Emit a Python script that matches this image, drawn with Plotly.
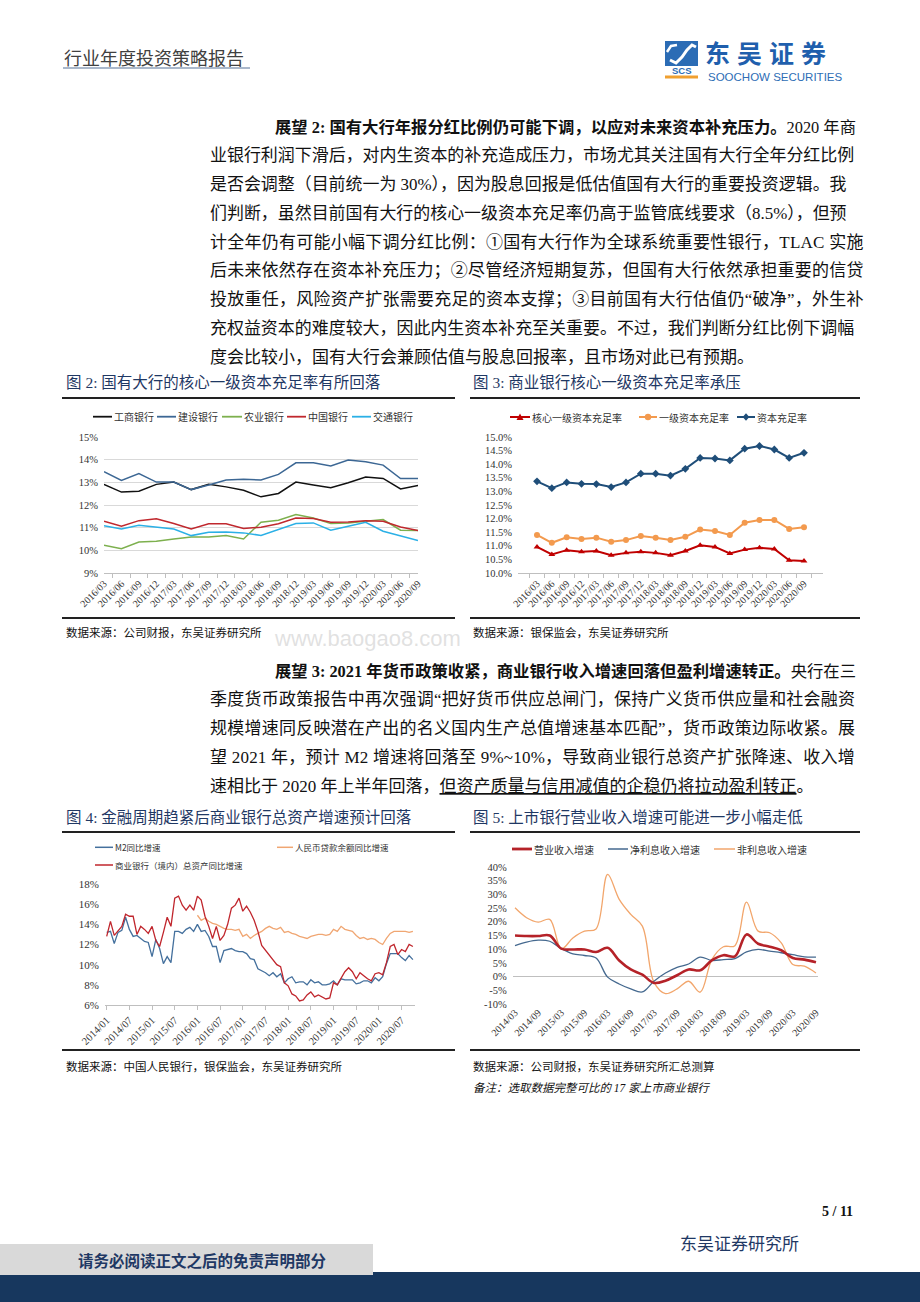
import plotly.graph_objects as go

W, H = 920, 1302
def X(p): return p / W
def Y(p): return 1 - p / H

SERIF_CJK = "Liberation Serif, Noto Sans CJK SC"
SANS_CJK = "Noto Sans CJK SC, Liberation Sans"
TEXT = "#111111"
NAVY_T = "#1F3864"
TICK = "#333333"

# ---------------- data: figure 2 ----------------
q16 = ["2016/03", "2016/06", "2016/09", "2016/12", "2017/03", "2017/06", "2017/09", "2017/12",
       "2018/03", "2018/06", "2018/09", "2018/12", "2019/03", "2019/06", "2019/09", "2019/12",
       "2020/03", "2020/06", "2020/09"]
icbc = [12.91, 12.57, 12.61, 12.91, 13.01, 12.68, 12.91, 12.80, 12.65, 12.36, 12.51, 13.01, 12.88,
        12.76, 12.98, 13.23, 13.17, 12.71, 12.86]
ccb = [13.47, 13.08, 13.39, 13.01, 13.01, 12.68, 12.88, 13.10, 13.14, 13.10, 13.35, 13.86, 13.86,
       13.72, 13.98, 13.91, 13.76, 13.17, 13.17]
abc = [10.22, 10.07, 10.37, 10.40, 10.50, 10.59, 10.59, 10.65, 10.50, 11.24, 11.33, 11.58, 11.43,
       11.18, 11.21, 11.28, 11.36, 10.89, 10.87]
boc = [11.28, 11.06, 11.31, 11.39, 11.18, 10.94, 11.17, 11.17, 10.96, 11.02, 11.17, 11.43, 11.40,
       11.24, 11.25, 11.31, 11.28, 11.03, 10.87]
bocom = [11.09, 10.94, 11.11, 11.02, 10.94, 10.65, 10.80, 10.81, 10.77, 10.66, 10.91, 11.18, 11.21,
         10.89, 11.06, 11.24, 10.84, 10.65, 10.43]

# ---------------- data: figure 3 ----------------
cet1 = [10.96, 10.68, 10.84, 10.78, 10.81, 10.65, 10.74, 10.78, 10.74, 10.65, 10.81, 11.02, 10.96,
        10.72, 10.86, 10.93, 10.88, 10.47, 10.44]
tier1 = [11.40, 11.11, 11.31, 11.25, 11.30, 11.15, 11.21, 11.36, 11.30, 11.21, 11.33, 11.60, 11.54,
         11.40, 11.85, 11.95, 11.95, 11.62, 11.68]
car = [13.37, 13.12, 13.33, 13.28, 13.27, 13.16, 13.33, 13.65, 13.65, 13.58, 13.83, 14.23, 14.21,
       14.14, 14.57, 14.67, 14.54, 14.23, 14.42]

# ---------------- data: figure 4 (monthly, 2014/01 - 2020/10) ----------------
months = [f"{yr}/{mo:02d}" for yr in range(2014, 2021) for mo in range(1, 13)][:82]
m2 = [13.2, 13.3, 12.1, 13.2, 13.4, 14.7, 13.5, 12.8, 12.9, 12.6, 12.3, 12.2,
      10.8, 12.5, 11.6, 10.1, 10.8, 10.2, 13.3, 13.3, 13.1, 13.5, 13.7, 13.3,
      14.0, 13.3, 13.4, 12.8, 11.8, 11.8, 10.2, 11.4, 11.5, 11.6, 11.4, 11.3,
      11.3, 11.1, 10.6, 10.5, 9.6, 9.4, 9.2, 8.9, 9.2, 8.8, 9.1, 8.2,
      8.6, 8.8, 8.2, 8.3, 8.3, 8.0, 8.5, 8.2, 8.3, 8.0, 8.0, 8.1,
      8.4, 8.0, 8.6, 8.5, 8.5, 8.5, 8.1, 8.2, 8.4, 8.4, 8.2, 8.7,
      8.4, 8.8, 10.1, 11.1, 11.1, 11.1, 10.7, 10.4, 10.9, 10.5]
loan_months = months[24:]
loan = [14.9, 14.4, 14.6, 14.3, 14.1, 14.0, 13.8, 13.6, 13.5, 13.5, 13.4, 13.5,
        12.8, 13.0, 12.6, 12.9, 13.1, 13.3, 13.6, 13.8, 13.6, 13.5, 13.7, 13.2,
        13.3, 13.1, 13.0, 12.8, 12.7, 12.6, 12.8, 12.9, 13.0, 13.0, 12.9, 13.0,
        13.5, 13.3, 13.8, 13.5, 13.4, 13.3, 12.9, 12.6, 12.7, 12.5, 12.6, 12.5,
        12.2, 12.0, 12.6, 13.1, 13.3, 13.3, 13.3, 13.3, 13.2, 13.3]
assets = [12.8, 14.3, 12.9, 13.3, 13.8, 15.0, 14.8, 14.8, 13.0, 13.8, 13.5, 13.1,
          13.8, 12.4, 11.8, 13.2, 14.7, 13.8, 16.6, 16.8, 15.9, 15.4, 15.9, 15.4,
          16.8, 16.4, 14.8, 13.8, 12.6, 13.8, 12.4, 12.9, 14.0, 15.6, 15.9, 16.6,
          15.3, 15.8, 15.2, 14.4, 13.3, 11.9, 11.4, 11.0, 10.5, 10.0, 9.8, 8.2,
          7.9, 7.1, 6.9, 6.4, 6.5, 7.0, 7.3, 6.8, 7.0, 6.8, 6.6, 6.7,
          8.2, 8.0, 8.6, 9.3, 9.7, 9.3, 8.6, 9.2, 8.9, 8.6, 8.4, 9.1,
          9.2, 9.0, 10.2, 11.8, 12.0, 11.0, 11.5, 11.3, 12.0, 11.8]

# ---------------- data: figure 5 (quarterly, 2014/03 - 2020/09) ----------------
q14 = ["2014/03", "2014/06", "2014/09", "2014/12", "2015/03", "2015/06", "2015/09", "2015/12",
       "2016/03", "2016/06", "2016/09", "2016/12", "2017/03", "2017/06", "2017/09", "2017/12",
       "2018/03", "2018/06", "2018/09", "2018/12", "2019/03", "2019/06", "2019/09", "2019/12",
       "2020/03", "2020/06", "2020/09"]
rev = [15.0, 14.8, 14.8, 15.0, 10.2, 9.9, 9.9, 9.0, 10.5, 5.9, 2.6, 0.7, -2.3, -1.5, 0.5, 2.6,
       2.3, 5.9, 7.8, 7.4, 15.4, 12.0, 10.9, 9.6, 6.8, 6.2, 5.2]
nii = [11.3, 12.6, 13.3, 12.9, 10.2, 8.3, 7.7, 6.8, -0.2, -2.7, -4.5, -5.6, -1.7, 1.3, 3.4, 4.6,
       7.1, 5.9, 6.2, 6.6, 9.0, 9.9, 9.3, 8.7, 8.0, 7.2, 7.1]
nonii = [25.1, 21.5, 19.9, 20.9, 10.1, 14.1, 16.6, 17.4, 37.3, 28.2, 22.7, 18.4, -2.0, -6.2, -4.5,
         -1.7, -5.7, 6.2, 10.9, 11.3, 27.2, 16.6, 16.0, 12.3, 4.4, 3.8, 1.3]
f5_yticks = [-10, -5, 0, 5, 10, 15, 20, 25, 30, 35, 40]
f5_yticktext = ["-10%", "-5%", "0%", "5%", "10%", "15%", "20%", "25%", "30%", "35%", "40%"]

# ---------------- figure ----------------
fig = go.Figure()

def add_series(x, y, color, width, xa, ya, mode="lines", shape="linear", marker=None):
    kw = dict(x=x, y=y, mode=mode, line=dict(color=color, width=width, shape=shape),
              xaxis=xa, yaxis=ya, showlegend=False, hoverinfo="skip")
    if shape == "spline":
        kw["line"]["smoothing"] = 1.0
    if marker:
        kw["marker"] = marker
    fig.add_trace(go.Scatter(**kw))

C2 = {"工商银行": "#111111", "建设银行": "#3C6794", "农业银行": "#7DB04E", "中国银行": "#C0282E", "交通银行": "#2BB0E6"}
add_series(q16, icbc, C2["工商银行"], 1.5, "x", "y")
add_series(q16, ccb, C2["建设银行"], 1.5, "x", "y")
add_series(q16, abc, C2["农业银行"], 1.5, "x", "y")
add_series(q16, boc, C2["中国银行"], 1.5, "x", "y")
add_series(q16, bocom, C2["交通银行"], 1.5, "x", "y")

C3 = ["#C00000", "#F39A4E", "#1F4E79"]
add_series(q16, car, C3[2], 2, "x2", "y2", mode="lines+markers", marker=dict(symbol="diamond", size=6, color=C3[2]))
add_series(q16, tier1, C3[1], 2, "x2", "y2", mode="lines+markers", marker=dict(symbol="circle", size=6, color=C3[1]))
add_series(q16, cet1, C3[0], 2, "x2", "y2", mode="lines+markers", marker=dict(symbol="triangle-up", size=6, color=C3[0]))

C4 = ["#44709D", "#F0A672", "#C0262D"]
add_series(months, m2, C4[0], 1.3, "x3", "y3")
add_series(loan_months, loan, C4[1], 1.3, "x3", "y3")
add_series(months, assets, C4[2], 1.3, "x3", "y3")

C5 = ["#B52228", "#45698F", "#F2A66C"]
add_series(q14, nonii, C5[2], 1.3, "x4", "y4", shape="spline")
add_series(q14, nii, C5[1], 1.3, "x4", "y4", shape="spline")
add_series(q14, rev, C5[0], 2.6, "x4", "y4", shape="spline")

tickfont = dict(family="Liberation Serif", size=10, color=TICK)
base_x = dict(type="category", showgrid=False, zeroline=False, tickangle=-45, tickfont=tickfont,
              showline=True, linecolor="#BFBFBF", linewidth=1, ticks="outside", ticklen=4,
              tickcolor="#BFBFBF", automargin=False, fixedrange=True)
base_y = dict(showgrid=False, zeroline=False, showline=False, automargin=False, fixedrange=True,
              tickfont=dict(family="Liberation Serif", size=10.5, color=TICK), ticklabelstandoff=5)

layout = dict(
    width=W, height=H, autosize=False, margin=dict(l=0, r=0, t=0, b=0),
    paper_bgcolor="white", plot_bgcolor="rgba(0,0,0,0)", showlegend=False,
    xaxis=dict(base_x, domain=[X(104), X(418)], anchor="y", tickson="boundaries",
               categoryorder="array", categoryarray=q16),
    yaxis=dict(base_y, domain=[Y(573), Y(437)], anchor="x", range=[9, 15], dtick=1, ticksuffix="%",
               showgrid=True, gridcolor="#D9D9D9", gridwidth=1),
    xaxis2=dict(base_x, domain=[X(518), X(823)], anchor="y2", tickson="boundaries",
                categoryorder="array", categoryarray=q16),
    yaxis2=dict(base_y, domain=[Y(573), Y(437)], anchor="x2", range=[10, 15], dtick=0.5,
                tickformat=".1f", ticksuffix="%"),
    xaxis3=dict(base_x, domain=[X(104.8), X(414.8)], anchor="y3", categoryorder="array",
                categoryarray=months, tickvals=months[::6], range=[-0.5, 81.5],
                tickfont=dict(family="Liberation Serif", size=10.5, color=TICK)),
    yaxis3=dict(base_y, domain=[Y(1005), Y(884)], anchor="x3", range=[6, 18], dtick=2, ticksuffix="%",
                tickfont=dict(family="Liberation Serif", size=11, color=TICK)),
    xaxis4=dict(base_x, domain=[X(512.7), X(818.3)], anchor="y4", categoryorder="array",
                categoryarray=q14, tickvals=q14[::2], range=[-0.2, 26.2], showline=False, ticks=""),
    yaxis4=dict(base_y, domain=[Y(1004), Y(867)], anchor="x4", range=[-10, 40], tickvals=f5_yticks,
                ticktext=f5_yticktext, zeroline=True, zerolinecolor="#BFBFBF", zerolinewidth=1),
)

shapes = []
annotations = []

def ann(x, y, text, size, color=TEXT, family=SERIF_CJK, xanchor="left", yanchor="middle", **kw):
    annotations.append(dict(xref="paper", yref="paper", x=X(x), y=Y(y), text=text, showarrow=False,
                            xanchor=xanchor, yanchor=yanchor,
                            font=dict(size=size, color=color, family=family), **kw))

def hline(x0, x1, y, color, w):
    shapes.append(dict(type="line", xref="paper", yref="paper", x0=X(x0), x1=X(x1), y0=Y(y), y1=Y(y),
                       line=dict(color=color, width=w)))

def rect(x0, y0, x1, y1, color):
    shapes.append(dict(type="rect", xref="paper", yref="paper", x0=X(x0), x1=X(x1), y0=Y(y1), y1=Y(y0),
                       fillcolor=color, line=dict(width=0), layer="below"))

def path(pts, fill=None, line_color=None, lw=0, close=True):
    d = ""
    for i, (px_, py_) in enumerate(pts):
        d += ("M" if i == 0 else "L") + f"{X(px_):.6f},{Y(py_):.6f} "
    if close:
        d += "Z"
    s = dict(type="path", xref="paper", yref="paper", path=d,
             line=dict(color=line_color or "rgba(0,0,0,0)", width=lw))
    if fill:
        s["fillcolor"] = fill
    shapes.append(s)

# faint site watermark, placed in the gap between the two source notes
ann(367, 638, "www.baogao8.com", 22, "rgba(200,200,200,0.55)", "Liberation Sans", xanchor="center")

# ---------- header ----------
ann(62, 57, "行业年度投资策略报告", 18, "#404040", SANS_CJK)
hline(63, 250, 68, "#8EA0BA", 1.6)
# logo
rect(665, 41, 698, 66, "#2B6CB5")
path([(670, 60), (676, 63), (682, 57), (687, 50), (692, 45), (696, 47)], line_color="white", lw=3, close=False)
path([(667, 52), (671, 46), (677, 45)], line_color="white", lw=2.5, close=False)
ann(681.5, 70.5, "<b>SCS</b>", 9.5, "#2B6CB5", "Liberation Sans", xanchor="center")
rect(665, 75.5, 698, 78.5, "#F0A030")
ann(703, 52, "<b><span style='letter-spacing:7px'>东吴证券</span></b>", 25, "#1F5FAD", SANS_CJK)
ann(706, 76.5, "SOOCHOW SECURITIES", 11.5, "#2D6DB5", "Liberation Sans")

# ---------- body text ----------
EMW = {" ": 0.25, "%": 0.833, ":": 0.278, ".": 0.25, "~": 0.541, "/": 0.278, "“": 0.444, "”": 0.444,
       "T": 0.611, "L": 0.611, "A": 0.722, "C": 0.667, "M": 0.889}

def em_of(s):
    w = 0.0
    for ch in s:
        if ch in EMW:
            w += EMW[ch]
        elif ch.isdigit():
            w += 0.5
        elif ord(ch) >= 0x2E80 or ch in "①②③":
            w += 1.0
        else:
            w += 0.5
    return w

def body_line(x0, x1, y, segs, size=17, justify=True):
    total_em = sum(em_of(t) for t, _ in segs)
    n = sum(len(t) for t, _ in segs)
    ls = 0.0
    if justify:
        natural = total_em * size
        if natural > (x1 - x0):
            size = (x1 - x0) / total_em   # overfull line: shrink instead of squeezing
        else:
            ls = min(3.0, ((x1 - x0) - natural) / (n - 1))
    parts = []
    for t, st in segs:
        css = f"letter-spacing:{ls:.2f}px" if ls else ""
        if st == "b":
            css += ";font-weight:bold"
        if st == "u":
            css += ";text-decoration:underline"
        parts.append(f"<span style='{css.strip(';')}'>{t}</span>" if css else t)
    ann(x0 - 2, y, "".join(parts), round(size, 2), TEXT, SERIF_CJK)

para1 = [
    [("展望 2: 国有大行年报分红比例仍可能下调，以应对未来资本补充压力。", "b"), ("2020 年商", "")],
    [("业银行利润下滑后，对内生资本的补充造成压力，市场尤其关注国有大行全年分红比例", "")],
    [("是否会调整（目前统一为 30%），因为股息回报是低估值国有大行的重要投资逻辑。我", "")],
    [("们判断，虽然目前国有大行的核心一级资本充足率仍高于监管底线要求（8.5%），但预", "")],
    [("计全年仍有可能小幅下调分红比例：①国有大行作为全球系统重要性银行，TLAC 实施", "")],
    [("后未来依然存在资本补充压力；②尽管经济短期复苏，但国有大行依然承担重要的信贷", "")],
    [("投放重任，风险资产扩张需要充足的资本支撑；③目前国有大行估值仍“破净”，外生补", "")],
    [("充权益资本的难度较大，因此内生资本补充至关重要。不过，我们判断分红比例下调幅", "")],
    [("度会比较小，国有大行会兼顾估值与股息回报率，且市场对此已有预期。", "")],
]
para2 = [
    [("展望 3: 2021 年货币政策收紧，商业银行收入增速回落但盈利增速转正。", "b"), ("央行在三", "")],
    [("季度货币政策报告中再次强调“把好货币供应总闸门，保持广义货币供应量和社会融资", "")],
    [("规模增速同反映潜在产出的名义国内生产总值增速基本匹配”，货币政策边际收紧。展", "")],
    [("望 2021 年，预计 M2 增速将回落至 9%~10%，导致商业银行总资产扩张降速、收入增", "")],
    [("速相比于 2020 年上半年回落，", ""), ("但资产质量与信用减值的企稳仍将拉动盈利转正", "u"), ("。", "")],
]
LH = 28.75
for i, segs in enumerate(para1):
    body_line(275 if i == 0 else 210, 855, 127 + i * LH, segs, justify=(i < len(para1) - 1))
for i, segs in enumerate(para2):
    body_line(275 if i == 0 else 210, 855, 671 + i * LH, segs, justify=(i < len(para2) - 1))

# ---------- figure titles, rules, sources ----------
ann(64, 383, "图 2: 国有大行的核心一级资本充足率有所回落", 15.5, NAVY_T)
ann(471, 383, "图 3: 商业银行核心一级资本充足率承压", 15.5, NAVY_T)
ann(64, 817, "图 4: 金融周期趋紧后商业银行总资产增速预计回落", 15.5, NAVY_T)
ann(471, 817, "图 5: 上市银行营业收入增速可能进一步小幅走低", 15.5, NAVY_T)
for (a, b) in [(62, 455), (470, 860)]:
    hline(a, b, 398, "#222222", 2)
    hline(a, b, 618, "#222222", 2)
    hline(a, b, 832, "#222222", 2)
    hline(a, b, 1050, "#222222", 2)
ann(64, 633, "数据来源：公司财报，东吴证券研究所", 11.5, TEXT)
ann(471, 633, "数据来源：银保监会，东吴证券研究所", 11.5, TEXT)
ann(64, 1066, "数据来源：中国人民银行，银保监会，东吴证券研究所", 11.5, TEXT)
ann(471, 1066, "数据来源：公司财报，东吴证券研究所汇总测算", 11.5, TEXT)
ann(471, 1088, "<i>备注：选取数据完整可比的 17 家上市商业银行</i>", 11.5, TEXT)

# ---------- legends (drawn manually) ----------
LEGF = SANS_CJK
leg2 = [("工商银行", 93, 112), ("建设银行", 157, 176), ("农业银行", 222, 242), ("中国银行", 287, 306), ("交通银行", 352, 371)]
for name, a, b in leg2:
    hline(a, b, 416.7, C2[name], 1.8)
    ann(b, 416.7, name, 10, "#333333", LEGF)

leg3 = [("核心一级资本充足率", 510, 530, C3[0], "tri"), ("一级资本充足率", 639, 657, C3[1], "circ"), ("资本充足率", 737, 755, C3[2], "dia")]
for name, a, b, col, sym in leg3:
    hline(a, b, 417, col, 2)
    cx, cy = (a + b) / 2, 417
    if sym == "tri":
        path([(cx - 3.5, cy + 3), (cx + 3.5, cy + 3), (cx, cy - 3.5)], fill=col)
    elif sym == "circ":
        shapes.append(dict(type="circle", xref="paper", yref="paper", x0=X(cx - 3.2), x1=X(cx + 3.2),
                           y0=Y(cy + 3.2), y1=Y(cy - 3.2), fillcolor=col, line=dict(width=0)))
    else:
        path([(cx, cy - 3.8), (cx + 3.3, cy), (cx, cy + 3.8), (cx - 3.3, cy)], fill=col)
    ann(b, 417, name, 10, "#333333", LEGF)

leg4 = [("M2同比增速", 95, 113, 847.3, C4[0]), ("人民币贷款余额同比增速", 277, 293, 847.3, C4[1]),
        ("商业银行（境内）总资产同比增速", 95, 113, 865, C4[2])]
for name, a, b, yy, col in leg4:
    hline(a, b, yy, col, 1.5)
    ann(b, yy, name, 8.5, "#333333", LEGF)

leg5 = [("营业收入增速", 512, 532, C5[0], 2.8), ("净利息收入增速", 608, 628, C5[1], 1.5), ("非利息收入增速", 714, 735, C5[2], 1.5)]
for name, a, b, col, lw in leg5:
    hline(a, b, 849, col, lw)
    ann(b, 849, name, 10, "#333333", LEGF)

# ---------- footer ----------
ann(855, 1211, "<b>5 / 11</b>", 14, TEXT, "Liberation Serif", xanchor="right")
ann(678, 1242, "东吴证券研究所", 17, NAVY_T, SANS_CJK)
rect(0, 1272, 920, 1302, "#17375E")
rect(0, 1244, 373, 1275, "#D9D9D9")
ann(76, 1260, "<b>请务必阅读正文之后的免责声明部分</b>", 15.5, NAVY_T, SANS_CJK)

layout["shapes"] = shapes
layout["annotations"] = annotations
fig.update_layout(**layout)
fig.write_html("out.html", config={"displayModeBar": False},
               post_script="document.body.style.margin='0px';document.body.style.overflow='hidden';")
